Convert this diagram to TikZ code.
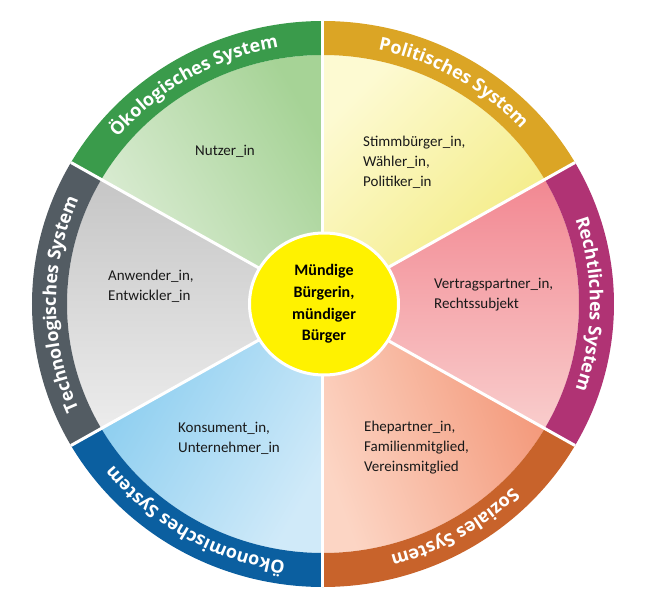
\documentclass[tikz,border=0pt]{standalone}
\usepackage{fontspec}
\setmainfont{Carlito}
\newfontfamily\ringfont{Open Sans}
\usepackage{tikz}
\usetikzlibrary{shapes.geometric,decorations.text}
\definecolor{ecoring}{RGB}{58,155,75}
\definecolor{ecolight}{RGB}{221,237,214}
\definecolor{ecodark}{RGB}{166,211,150}
\definecolor{polring}{RGB}{219,165,37}
\definecolor{pollight}{RGB}{253,250,210}
\definecolor{poldark}{RGB}{243,235,127}
\definecolor{recring}{RGB}{176,51,116}
\definecolor{reclight}{RGB}{249,205,204}
\definecolor{recdark}{RGB}{242,136,146}
\definecolor{socring}{RGB}{200,99,43}
\definecolor{soclight}{RGB}{252,213,196}
\definecolor{socdark}{RGB}{243,150,119}
\definecolor{okring}{RGB}{11,95,160}
\definecolor{oklight}{RGB}{208,234,249}
\definecolor{okdark}{RGB}{136,204,239}
\definecolor{techring}{RGB}{83,92,99}
\definecolor{techlight}{RGB}{236,236,236}
\definecolor{techdark}{RGB}{198,198,198}
\newcommand{\ringstyle}{\ringfont\bfseries\fontsize{18pt}{20pt}\selectfont}
\tikzset{divider/.style={draw=white, line width=3pt}}
\tikzset{ringtext/.style={decorate, decoration={text along path, text align=center, text color=white}}}
\tikzset{role/.style={anchor=west, align=left, inner sep=0pt, text=black!90, font=\fontsize{15pt}{20pt}\selectfont}}
\tikzset{citizen/.style={ellipse, draw=white, line width=3pt, fill=yellow, minimum width=149pt, minimum height=142pt,
 inner sep=0pt, align=center, font=\bfseries\fontsize{16pt}{21.7pt}\selectfont}}

\begin{document}
\begin{tikzpicture}[x=1pt, y=1pt]
        \useasboundingbox (-323,-299) rectangle (328,304);

        \shade[top color=ecolight, bottom color=ecodark, shading angle=120] (0,0) -- (150:256pt and 249pt) arc[start angle=150, end angle=90, x radius=256pt, y radius=249pt] -- cycle;
        \shade[top color=pollight, bottom color=poldark, shading angle=45] (0,0) -- (90:256pt and 249pt) arc[start angle=90, end angle=30, x radius=256pt, y radius=249pt] -- cycle;
        \shade[top color=recdark, bottom color=reclight, shading angle=0] (0,0) -- (30:256pt and 249pt) arc[start angle=30, end angle=-30, x radius=256pt, y radius=249pt] -- cycle;
        \shade[top color=soclight, bottom color=socdark, shading angle=110] (0,0) -- (-30:256pt and 249pt) arc[start angle=-30, end angle=-90, x radius=256pt, y radius=249pt] -- cycle;
        \shade[top color=okdark, bottom color=oklight, shading angle=60] (0,0) -- (-90:256pt and 249pt) arc[start angle=-90, end angle=-150, x radius=256pt, y radius=249pt] -- cycle;
        \shade[top color=techdark, bottom color=techlight, shading angle=0] (0,0) -- (-150:256pt and 249pt) arc[start angle=-150, end angle=-210, x radius=256pt, y radius=249pt] -- cycle;

        \fill[ecoring] (150:291pt and 283pt) arc[start angle=150, end angle=90, x radius=291pt, y radius=283pt] -- (90:256pt and 249pt) arc[start angle=90, end angle=150, x radius=256pt, y radius=249pt] -- cycle;
        \fill[polring] (90:291pt and 283pt) arc[start angle=90, end angle=30, x radius=291pt, y radius=283pt] -- (30:256pt and 249pt) arc[start angle=30, end angle=90, x radius=256pt, y radius=249pt] -- cycle;
        \fill[recring] (30:291pt and 283pt) arc[start angle=30, end angle=-30, x radius=291pt, y radius=283pt] -- (-30:256pt and 249pt) arc[start angle=-30, end angle=30, x radius=256pt, y radius=249pt] -- cycle;
        \fill[socring] (-30:291pt and 283pt) arc[start angle=-30, end angle=-90, x radius=291pt, y radius=283pt] -- (-90:256pt and 249pt) arc[start angle=-90, end angle=-30, x radius=256pt, y radius=249pt] -- cycle;
        \fill[okring] (-90:291pt and 283pt) arc[start angle=-90, end angle=-150, x radius=291pt, y radius=283pt] -- (-150:256pt and 249pt) arc[start angle=-150, end angle=-90, x radius=256pt, y radius=249pt] -- cycle;
        \fill[techring] (-150:291pt and 283pt) arc[start angle=-150, end angle=-210, x radius=291pt, y radius=283pt] -- (-210:256pt and 249pt) arc[start angle=-210, end angle=-150, x radius=256pt, y radius=249pt] -- cycle;

        \foreach \a in {90,30,-30,-90,-150,-210}
            \draw[divider] (0,0) -- (\a:291pt and 283pt);

        \path[ringtext, decoration={text={|\ringstyle|Ökologisches System}}] (150:267pt and 260pt) arc[start angle=150, end angle=90, x radius=267pt, y radius=260pt];
        \path[ringtext, decoration={text={|\ringstyle|Politisches System}}] (90:267pt and 260pt) arc[start angle=90, end angle=30, x radius=267pt, y radius=260pt];
        \path[ringtext, decoration={text={|\ringstyle|Rechtliches System}}] (30:267pt and 260pt) arc[start angle=30, end angle=-30, x radius=267pt, y radius=260pt];
        \path[ringtext, decoration={text={|\ringstyle|Soziales System}}] (-30:267pt and 260pt) arc[start angle=-30, end angle=-90, x radius=267pt, y radius=260pt];
        \path[ringtext, decoration={text={|\ringstyle|Ökonomisches System}}] (-90:267pt and 260pt) arc[start angle=-90, end angle=-150, x radius=267pt, y radius=260pt];
        \path[ringtext, decoration={text={|\ringstyle|Technologisches System}}] (-150:267pt and 260pt) arc[start angle=-150, end angle=-210, x radius=267pt, y radius=260pt];

        \node[role] (nutzer) at (-128,153) {Nutzer\_in};
        \node[role] (stimm) at (40,142) {Stimmbürger\_in,\\Wähler\_in,\\Politiker\_in};
        \node[role] (vertrag) at (111,9) {Vertragspartner\_in,\\Rechtssubjekt};
        \node[role] (ehe) at (41,-144) {Ehepartner\_in,\\Familienmitglied,\\Vereinsmitglied};
        \node[role] (konsum) at (-145,-134) {Konsument\_in,\\Unternehmer\_in};
        \node[role] (anwend) at (-215,18) {Anwender\_in,\\Entwickler\_in};

        \node[citizen] (buerger) at (1,0) {Mündige\\Bürgerin,\\mündiger\\Bürger};
\end{tikzpicture}
\end{document}
